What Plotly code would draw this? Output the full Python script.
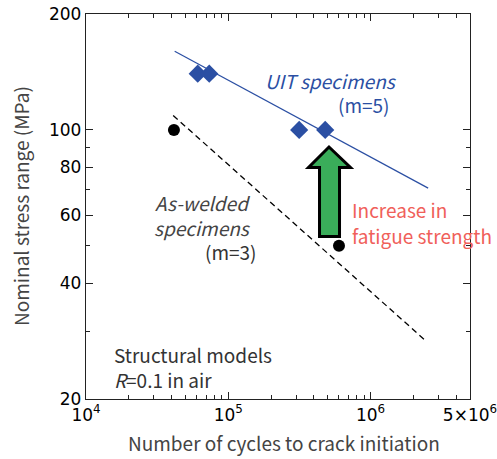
import plotly.graph_objects as go

# Data
uit_cycles = [6.1e4, 7.35e4, 3.15e5, 4.8e5]
uit_stress = [140, 140, 100, 100]
aw_cycles = [4.15e4, 6.0e5]
aw_stress = [100, 50]
uit_fit_cycles = [4.2e4, 2.54e6]
uit_fit_stress = [160, 70.6]
aw_fit_cycles = [4.1e4, 2.45e6]
aw_fit_stress = [109, 28.3]

x_major = [1e4, 1e5, 1e6, 5e6]
x_major_text = ["10<sup>4</sup>", "10<sup>5</sup>", "10<sup>6</sup>", "5×10<sup>6</sup>"]
x_minor = [2e4, 3e4, 4e4, 5e4, 6e4, 7e4, 8e4, 9e4,
           2e5, 3e5, 4e5, 5e5, 6e5, 7e5, 8e5, 9e5,
           2e6, 3e6, 4e6]
y_major = [20, 40, 60, 80, 100, 200]
y_major_text = ["20", "40", "60", "80", "100", "200"]
y_minor = [30, 50, 70, 90]

BLUE = "#2b4fa3"
FONT = "Noto Sans CJK JP"
TICKFONT = "DejaVu Sans"

fig = go.Figure()
fig.add_trace(go.Scatter(x=uit_fit_cycles, y=uit_fit_stress, mode="lines",
                         line=dict(color=BLUE, width=1.2), showlegend=False))
fig.add_trace(go.Scatter(x=aw_fit_cycles, y=aw_fit_stress, mode="lines",
                         line=dict(color="black", width=1.3, dash="6px,4px"), showlegend=False))
fig.add_trace(go.Scatter(x=uit_cycles, y=uit_stress, mode="markers",
                         marker=dict(symbol="diamond", size=14, color=BLUE), showlegend=False))
fig.add_trace(go.Scatter(x=aw_cycles, y=aw_stress, mode="markers",
                         marker=dict(symbol="circle", size=12, color="black"), showlegend=False))

PW, PH = 497, 459
L, R, T, B = 86, 470, 14, 399          # plot area in page pixels
W, H = R - L, B - T
def px(x):
    return (x - L) / W
def py(y):
    return (B - y) / H

# Green arrow (decoration in paper coords)
pts = [(329, 147), (350.5, 167.5), (339.5, 167.5), (339.5, 236.5),
       (319.5, 236.5), (319.5, 167.5), (308.5, 167.5)]
path = "M " + " L ".join(f"{px(a):.4f},{py(b):.4f}" for a, b in pts) + " Z"
fig.add_shape(type="path", path=path, xref="paper", yref="paper",
              fillcolor="#3aad5a", line=dict(color="black", width=3))

def ann(text, x, y, color, size=19, xanchor="center", angle=0):
    fig.add_annotation(text=text, x=px(x), y=py(y), xref="paper", yref="paper",
                       showarrow=False, xanchor=xanchor, yanchor="middle", textangle=angle,
                       font=dict(family=FONT, size=size, color=color))

ann("<i>UIT specimens</i>", 331, 81, BLUE)
ann("(m=5)", 364, 105, BLUE)
ann("<i>As-welded</i>", 202, 202, "#444444")
ann("<i>specimens</i>", 202, 227, "#444444")
ann("(m=3)", 231, 251, "#333333")
ann("Increase in", 350, 210, "#f0605a", xanchor="left")
ann("fatigue strength", 350, 235, "#f0605a", xanchor="left")
ann("Structural models", 112, 354, "#333333", xanchor="left")
ann("<i>R</i>=0.1 in air", 112, 379, "#333333", xanchor="left")
# axis titles
ann("Number of cycles to crack initiation", 284, 442, "#444444")
ann("Nominal stress range (MPa)", 20, 206, "#444444", angle=-90)

axis_common = dict(showline=True, linecolor="#222222", linewidth=1.3, mirror="ticks",
                   ticks="inside", ticklen=7, tickwidth=1.2, tickcolor="#222222",
                   showgrid=False, zeroline=False, automargin=False,
                   ticklabeloverflow="allow",
                   tickfont=dict(family=TICKFONT, size=17, color="black"))

fig.update_xaxes(type="log", range=[4, 6.69897], tickmode="array",
                 tickvals=x_major, ticktext=x_major_text,
                 minor=dict(tickvals=x_minor, ticks="inside", ticklen=4, tickwidth=1.1,
                            tickcolor="#222222", showgrid=False),
                 **axis_common)
fig.update_yaxes(type="log", range=[1.30103, 2.30103], tickmode="array",
                 tickvals=y_major, ticktext=y_major_text,
                 minor=dict(tickvals=y_minor, ticks="inside", ticklen=4, tickwidth=1.1,
                            tickcolor="#222222", showgrid=False),
                 **axis_common)

fig.update_layout(width=PW, height=PH,
                  margin=dict(l=L, r=PW - R, t=T, b=PH - B, autoexpand=False),
                  plot_bgcolor="white", paper_bgcolor="white", showlegend=False)

fig.write_html("out.html", config={"displayModeBar": False},
               post_script="document.body.style.margin='0';document.body.style.overflow='hidden';")
